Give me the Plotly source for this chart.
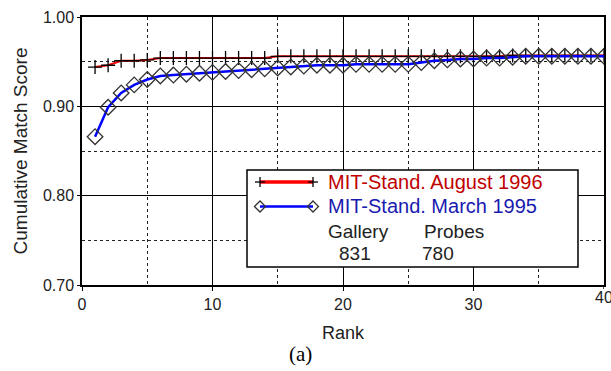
import plotly.graph_objects as go

rank = list(range(1, 41))
aug_1996 = [0.944, 0.946, 0.951, 0.951, 0.952, 0.954, 0.954, 0.954, 0.954, 0.954,
            0.954, 0.954, 0.954, 0.954, 0.956, 0.956, 0.956, 0.956, 0.956, 0.956,
            0.956, 0.956, 0.956, 0.956, 0.956, 0.956, 0.956, 0.956, 0.956, 0.956,
            0.956, 0.956, 0.957, 0.957, 0.957, 0.957, 0.957, 0.957, 0.957, 0.957]
mar_1995 = [0.866, 0.899, 0.915, 0.924, 0.930, 0.934, 0.935, 0.936, 0.937, 0.938,
            0.939, 0.940, 0.941, 0.942, 0.943, 0.944, 0.945, 0.946, 0.946, 0.946,
            0.947, 0.947, 0.947, 0.947, 0.947, 0.949, 0.951, 0.952, 0.953, 0.953,
            0.954, 0.954, 0.955, 0.956, 0.956, 0.956, 0.956, 0.956, 0.956, 0.956]
series_names = ["MIT-Stand. August 1996", "MIT-Stand. March 1995"]
x_ticks = [0, 10, 20, 30, 40]
y_ticks = [0.70, 0.80, 0.90, 1.00]

W, H = 611, 371
L, R, T, B = 82, 7, 17, 86
PW, PH = W - L - R, H - T - B

def px(xp):
    return (xp - L) / PW

def py(yp):
    return (H - B - yp) / PH

fig = go.Figure()
fig.add_trace(go.Scatter(
    x=rank, y=aug_1996, mode="lines+markers", name=series_names[0],
    line=dict(color="#ff0000", width=2),
    marker=dict(symbol="cross-thin", size=10, line=dict(color="black", width=1.3)),
    showlegend=False))
fig.add_trace(go.Scatter(
    x=rank, y=mar_1995, mode="lines+markers", name=series_names[1],
    line=dict(color="#0000ff", width=2.5),
    marker=dict(symbol="diamond-open", size=12, color="#333333", line=dict(width=1.3)),
    showlegend=False))

axis_font = dict(family="Liberation Sans, Arial", size=16, color="#222222")
fig.update_xaxes(
    range=[0, 40], tickvals=x_ticks[:-1], showgrid=True, gridcolor="black", gridwidth=1.3,
    showline=True, linecolor="black", linewidth=1.5, mirror=True,
    ticks="outside", ticklen=4, tickcolor="black", tickfont=axis_font,
    minor=dict(dtick=5, showgrid=True, gridcolor="#222222", griddash="3px,3px", gridwidth=1),
    title=dict(text="Rank", font=dict(family="Liberation Sans, Arial", size=18, color="#222222"), standoff=14),
    zeroline=False, automargin=False)
fig.update_yaxes(
    range=[0.70, 1.00], tickvals=y_ticks, tickformat=".2f", showgrid=True, gridcolor="black",
    gridwidth=1.3, showline=True, linecolor="black", linewidth=1.5, mirror=True,
    ticks="outside", ticklen=3, tickcolor="black", tickfont=axis_font,
    minor=dict(dtick=0.05, tick0=0.7, showgrid=True, gridcolor="#222222", griddash="3px,3px", gridwidth=1),
    title=dict(text="Cumulative Match Score", font=dict(family="Liberation Sans, Arial", size=19, color="#222222"), standoff=10),
    zeroline=False, automargin=False)

shapes = []
# legend box
shapes.append(dict(type="rect", xref="paper", yref="paper", x0=px(247), x1=px(578), y0=py(267), y1=py(170),
                   line=dict(color="black", width=1.5), fillcolor="white", layer="above"))
# legend sample lines
ly1, ly2 = 182, 206.5
lx0, lx1 = 260, 313
shapes.append(dict(type="line", xref="paper", yref="paper", x0=px(lx0), x1=px(lx1), y0=py(ly1), y1=py(ly1),
                   line=dict(color="#ff0000", width=3.5), layer="above"))
shapes.append(dict(type="line", xref="paper", yref="paper", x0=px(lx0), x1=px(lx1), y0=py(ly2), y1=py(ly2),
                   line=dict(color="#0000ff", width=2.5), layer="above"))
for cx in (lx0, lx1):
    # plus
    shapes.append(dict(type="line", xref="paper", yref="paper", x0=px(cx - 5), x1=px(cx + 5), y0=py(ly1), y1=py(ly1),
                       line=dict(color="black", width=1.3), layer="above"))
    shapes.append(dict(type="line", xref="paper", yref="paper", x0=px(cx), x1=px(cx), y0=py(ly1 - 5), y1=py(ly1 + 5),
                       line=dict(color="black", width=1.3), layer="above"))
    # diamond
    d = 5.5
    path = "M {a},{b} L {c},{e} L {f},{b} L {c},{g} Z".format(
        a=px(cx - d), b=py(ly2), c=px(cx), e=py(ly2 - d), f=px(cx + d), g=py(ly2 + d))
    shapes.append(dict(type="path", xref="paper", yref="paper", path=path,
                       line=dict(color="#333333", width=1.3), layer="above"))
# tick mark at the last x tick (label drawn as annotation since it is cut by the edge)
shapes.append(dict(type="line", xref="x", yref="paper", x0=x_ticks[-1], x1=x_ticks[-1], y0=0, y1=py(H - B + 4),
                   line=dict(color="black", width=1.3), layer="above"))

legend_font = "Liberation Sans, Arial"
annotations = [
    dict(text=series_names[0], x=px(326), y=py(182), xanchor="left", yanchor="middle",
         font=dict(family=legend_font, size=20, color="#c00000")),
    dict(text=series_names[1], x=px(326), y=py(206), xanchor="left", yanchor="middle",
         font=dict(family=legend_font, size=20, color="#1a1ab0")),
    dict(text="Gallery", x=px(326), y=py(231), xanchor="left", yanchor="middle",
         font=dict(family=legend_font, size=19, color="#222222")),
    dict(text="Probes", x=px(422), y=py(231), xanchor="left", yanchor="middle",
         font=dict(family=legend_font, size=19, color="#222222")),
    dict(text="831", x=px(337), y=py(254), xanchor="left", yanchor="middle",
         font=dict(family=legend_font, size=19, color="#222222")),
    dict(text="780", x=px(420), y=py(254), xanchor="left", yanchor="middle",
         font=dict(family=legend_font, size=19, color="#222222")),
    dict(text="(a)", x=px(300), y=py(354), xanchor="center", yanchor="middle",
         font=dict(family="Liberation Serif, Times New Roman", size=21, color="black")),
]
for a in annotations:
    a.update(xref="paper", yref="paper", showarrow=False)
annotations.append(dict(text=str(x_ticks[-1]), x=x_ticks[-1], xref="x", y=py(297), yref="paper",
                        xanchor="center", yanchor="middle", showarrow=False, font=axis_font))

fig.update_layout(
    width=W, height=H, margin=dict(l=L, r=R, t=T, b=B, pad=0, autoexpand=False),
    paper_bgcolor="white", plot_bgcolor="white",
    shapes=shapes, annotations=annotations, showlegend=False)

fig.write_html("out.html", config={"displayModeBar": False},
               post_script="document.body.style.margin='0';document.body.style.overflow='hidden';")
